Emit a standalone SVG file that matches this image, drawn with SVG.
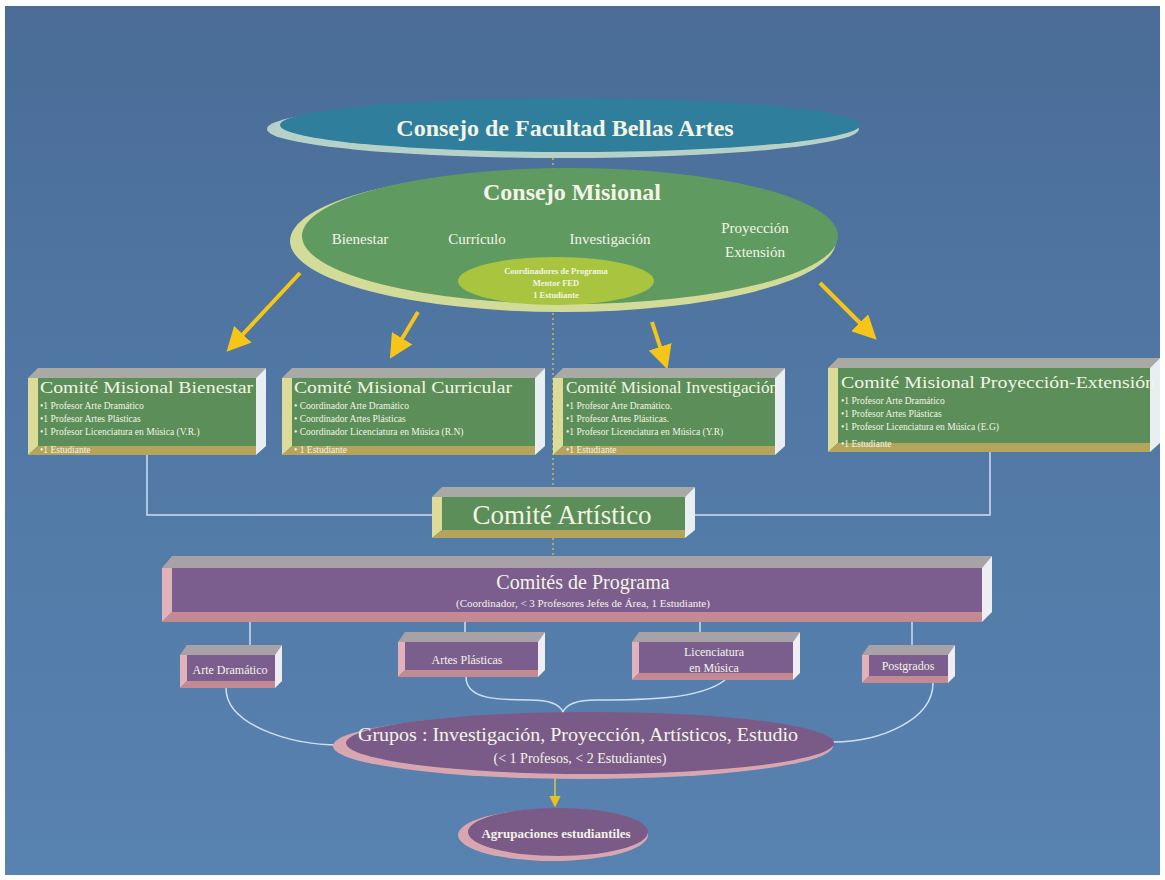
<svg xmlns="http://www.w3.org/2000/svg" width="1165" height="880" viewBox="0 0 1165 880">
<style>
.t{font-family:"Liberation Serif","DejaVu Serif",serif;fill:#f4f4e6}
.b{font-weight:bold}
.conn{fill:none;stroke:#cfe0f2;stroke-width:1.5}
.arr{stroke:#f5c518;stroke-width:4;fill:none;marker-end:url(#ah)}
.gTop{fill:#a9a9a6}.gRight{fill:#e9eef2}.gLeft{fill:#dcdc98}.gBot{fill:#b4a45c}.gFront{fill:#5b8e58}
.pTop{fill:#a8a2a6}.pRight{fill:#eeeef2}.pLeft{fill:#e2b2ba}.pBot{fill:#c48a94}.pFront{fill:#7b5e8e}
.sm{font-size:9.5px}
</style>
<defs>
<marker id="ah" markerWidth="6" markerHeight="6" refX="4" refY="3" orient="auto" markerUnits="strokeWidth">
<path d="M0,0 L6,3 L0,6 Z" fill="#f5c518"/>
</marker>
<marker id="ah2" markerWidth="8" markerHeight="8" refX="5" refY="4" orient="auto" markerUnits="strokeWidth">
<path d="M0,0 L8,4 L0,8 Z" fill="#e8c020"/>
</marker>
<linearGradient id="bg" x1="0" y1="0" x2="0" y2="1">
<stop offset="0" stop-color="#4a6c97"/>
<stop offset="0.5" stop-color="#5279a6"/>
<stop offset="1" stop-color="#5882b0"/>
</linearGradient>
</defs>
<rect width="1165" height="880" fill="#ffffff"/>
<rect x="5" y="6" width="1155" height="869" fill="url(#bg)"/>

<g id="connectors">
<line x1="553" y1="158" x2="553" y2="560" stroke="#cdb64a" stroke-width="1.5" stroke-dasharray="2 3"/>
<line class="arr" x1="300" y1="273" x2="232" y2="346"/>
<line class="arr" x1="418" y1="312" x2="394" y2="352"/>
<line class="arr" x1="652" y1="322" x2="665" y2="362"/>
<line class="arr" x1="820" y1="283" x2="871" y2="334"/>
<polyline class="conn" points="147,455 147,515 432,515"/>
<polyline class="conn" points="990,452 990,515 695,515"/>
<line class="conn" x1="250" y1="622" x2="250" y2="645"/>
<line class="conn" x1="465" y1="622" x2="465" y2="632"/>
<line class="conn" x1="700" y1="622" x2="700" y2="632"/>
<line class="conn" x1="912" y1="622" x2="912" y2="645"/>
<path class="conn" d="M226,688 C226,725 290,745 340,745"/>
<path class="conn" d="M933,683 C933,720 880,742 833,742"/>
<path class="conn" d="M466,677 C466,700 500,700 530,700 C550,700 560,705 563,712 C566,705 576,700 596,700 C640,700 700,700 725,680"/>
<line x1="555" y1="778" x2="555" y2="803" stroke="#d8c83a" stroke-width="1.5" marker-end="url(#ah2)"/>
</g>

<g id="consejo-facultad">
<ellipse cx="563" cy="129" rx="296" ry="29" fill="#b6d2c8"/>
<ellipse cx="570" cy="125" rx="290" ry="27" fill="#2f7f9c"/>
<text class="t b" x="565" y="136" font-size="24" text-anchor="middle">Consejo de Facultad Bellas Artes</text>
</g>

<g id="consejo-misional">
<ellipse cx="563" cy="241" rx="273" ry="71" fill="#d2dc98"/>
<ellipse cx="570" cy="236" rx="268" ry="68" fill="#5f9a60"/>
<text class="t b" x="572" y="200" font-size="24" text-anchor="middle">Consejo Misional</text>
<text class="t" x="360" y="244" font-size="15" text-anchor="middle">Bienestar</text>
<text class="t" x="477" y="244" font-size="15" text-anchor="middle">Currículo</text>
<text class="t" x="610" y="244" font-size="15" text-anchor="middle">Investigación</text>
<text class="t" x="755" y="233" font-size="15" text-anchor="middle">Proyección</text>
<text class="t" x="755" y="257" font-size="15" text-anchor="middle">Extensión</text>
</g>

<g id="coordinadores">
<ellipse cx="556" cy="281" rx="98" ry="24" fill="#a9c43e"/>
<text class="t b" x="556" y="274" font-size="8.5" text-anchor="middle" fill="#f2f0c0">Coordinadores de Programa</text>
<text class="t b" x="556" y="286" font-size="8.5" text-anchor="middle" fill="#f2f0c0">Mentor FED</text>
<text class="t b" x="556" y="298" font-size="8.5" text-anchor="middle" fill="#f2f0c0">1 Estudiante</text>
</g>

<g id="comite-bienestar">
<polygon class="gTop" points="28,378 38,368 266,368 256,378"/>
<polygon class="gRight" points="256,378 266,368 266,446 256,455"/>
<polygon class="gLeft" points="28,378 38,378 38,446 28,455"/>
<polygon class="gBot" points="38,446 256,446 256,455 28,455"/>
<rect class="gFront" x="38" y="378" width="218" height="68"/>
<text class="t" x="40" y="393" font-size="16" textLength="213" lengthAdjust="spacingAndGlyphs">Comité Misional Bienestar</text>
<text class="t sm" x="40" y="409">•1 Profesor Arte Dramático</text>
<text class="t sm" x="40" y="422">•1 Profesor Artes Plásticas</text>
<text class="t sm" x="40" y="435">•1 Profesor Licenciatura en Música (V.R.)</text>
<text class="t sm" x="40" y="453">•1 Estudiante</text>
</g>

<g id="comite-curricular">
<polygon class="gTop" points="282,378 292,368 545,368 535,378"/>
<polygon class="gRight" points="535,378 545,368 545,446 535,455"/>
<polygon class="gLeft" points="282,378 292,378 292,446 282,455"/>
<polygon class="gBot" points="292,446 535,446 535,455 282,455"/>
<rect class="gFront" x="292" y="378" width="243" height="68"/>
<text class="t" x="294" y="393" font-size="16" textLength="218" lengthAdjust="spacingAndGlyphs">Comité Misional Curricular</text>
<text class="t sm" x="294" y="409">• Coordinador Arte Dramático</text>
<text class="t sm" x="294" y="422">• Coordinador Artes Plásticas</text>
<text class="t sm" x="294" y="435">• Coordinador Licenciatura en Música (R.N)</text>
<text class="t sm" x="294" y="453">• 1 Estudiante</text>
</g>

<g id="comite-investigacion">
<polygon class="gTop" points="553,378 563,368 785,368 775,378"/>
<polygon class="gRight" points="775,378 785,368 785,446 775,455"/>
<polygon class="gLeft" points="553,378 563,378 563,446 553,455"/>
<polygon class="gBot" points="563,446 775,446 775,455 553,455"/>
<rect class="gFront" x="563" y="378" width="212" height="68"/>
<text class="t" x="566" y="393" font-size="16" textLength="212" lengthAdjust="spacingAndGlyphs">Comité Misional Investigación</text>
<text class="t sm" x="566" y="409">•1 Profesor Arte Dramático.</text>
<text class="t sm" x="566" y="422">•1 Profesor Artes Plásticas.</text>
<text class="t sm" x="566" y="435">•1 Profesor Licenciatura en Música (Y.R)</text>
<text class="t sm" x="566" y="453">•1 Estudiante</text>
</g>

<g id="comite-proyeccion">
<polygon class="gTop" points="828,368 838,358 1160,358 1150,368"/>
<polygon class="gRight" points="1150,368 1160,358 1160,443 1150,452"/>
<polygon class="gLeft" points="828,368 838,368 838,443 828,452"/>
<polygon class="gBot" points="838,443 1150,443 1150,452 828,452"/>
<rect class="gFront" x="838" y="368" width="312" height="75"/>
<text class="t" x="841" y="388" font-size="16" textLength="314" lengthAdjust="spacingAndGlyphs">Comité Misional Proyección-Extensión</text>
<text class="t sm" x="841" y="404">•1 Profesor Arte Dramático</text>
<text class="t sm" x="841" y="417">•1 Profesor Artes Plásticas</text>
<text class="t sm" x="841" y="430">•1 Profesor Licenciatura en Música (E.G)</text>
<text class="t sm" x="841" y="447">•1 Estudiante</text>
</g>

<g id="comite-artistico">
<polygon class="gTop" points="432,497 442,487 695,487 685,497"/>
<polygon class="gRight" points="685,497 695,487 695,530 685,538"/>
<polygon class="gLeft" points="432,497 442,497 442,530 432,538"/>
<polygon class="gBot" points="442,530 685,530 685,538 432,538"/>
<rect class="gFront" x="442" y="497" width="243" height="33"/>
<text class="t" x="562" y="524" font-size="27" text-anchor="middle">Comité Artístico</text>
</g>

<g id="comites-programa">
<polygon class="pTop" points="162,568 172,556 992,556 982,568"/>
<polygon class="pRight" points="982,568 992,556 992,612 982,622"/>
<polygon class="pLeft" points="162,568 172,568 172,612 162,622"/>
<polygon class="pBot" points="172,612 982,612 982,622 162,622"/>
<rect class="pFront" x="172" y="568" width="810" height="44"/>
<text class="t" x="583" y="589" font-size="20" text-anchor="middle">Comités de Programa</text>
<text class="t" x="583" y="607" font-size="11" text-anchor="middle">(Coordinador, &lt; 3 Profesores Jefes de Área, 1 Estudiante)</text>
</g>

<g id="arte-dramatico">
<polygon class="pTop" points="180,655 187,645 282,645 275,655"/>
<polygon class="pRight" points="275,655 282,645 282,681 275,688"/>
<polygon class="pLeft" points="180,655 187,655 187,681 180,688"/>
<polygon class="pBot" points="187,681 275,681 275,688 180,688"/>
<rect class="pFront" x="187" y="655" width="88" height="26"/>
<text class="t" x="230" y="674" font-size="12" text-anchor="middle">Arte Dramático</text>
</g>

<g id="artes-plasticas">
<polygon class="pTop" points="398,642 405,632 545,632 538,642"/>
<polygon class="pRight" points="538,642 545,632 545,670 538,677"/>
<polygon class="pLeft" points="398,642 405,642 405,670 398,677"/>
<polygon class="pBot" points="405,670 538,670 538,677 398,677"/>
<rect class="pFront" x="405" y="642" width="133" height="28"/>
<text class="t" x="467" y="664" font-size="12" text-anchor="middle">Artes Plásticas</text>
</g>

<g id="licenciatura-musica">
<polygon class="pTop" points="632,642 639,632 800,632 793,642"/>
<polygon class="pRight" points="793,642 800,632 800,673 793,680"/>
<polygon class="pLeft" points="632,642 639,642 639,673 632,680"/>
<polygon class="pBot" points="639,673 793,673 793,680 632,680"/>
<rect class="pFront" x="639" y="642" width="154" height="31"/>
<text class="t" x="714" y="656" font-size="12" text-anchor="middle">Licenciatura</text>
<text class="t" x="714" y="672" font-size="12" text-anchor="middle">en Música</text>
</g>

<g id="postgrados">
<polygon class="pTop" points="862,655 869,645 955,645 948,655"/>
<polygon class="pRight" points="948,655 955,645 955,676 948,683"/>
<polygon class="pLeft" points="862,655 869,655 869,676 862,683"/>
<polygon class="pBot" points="869,676 948,676 948,683 862,683"/>
<rect class="pFront" x="869" y="655" width="79" height="21"/>
<text class="t" x="908" y="670" font-size="12" text-anchor="middle">Postgrados</text>
</g>

<g id="grupos">
<ellipse cx="583" cy="746" rx="250" ry="33" fill="#d8a6b0"/>
<ellipse cx="590" cy="743" rx="244" ry="31" fill="#7a5b88"/>
<text class="t" x="358" y="741" font-size="18" textLength="440" lengthAdjust="spacingAndGlyphs">Grupos : Investigación, Proyección, Artísticos, Estudio</text>
<text class="t" x="580" y="763" font-size="14" text-anchor="middle">(&lt; 1 Profesos, &lt; 2 Estudiantes)</text>
</g>

<g id="agrupaciones">
<ellipse cx="553" cy="835" rx="95" ry="26" fill="#d8a6b0"/>
<ellipse cx="558" cy="832" rx="90" ry="24" fill="#7a5b88"/>
<text class="t b" x="556" y="838" font-size="13" text-anchor="middle">Agrupaciones estudiantiles</text>
</g>
</svg>
